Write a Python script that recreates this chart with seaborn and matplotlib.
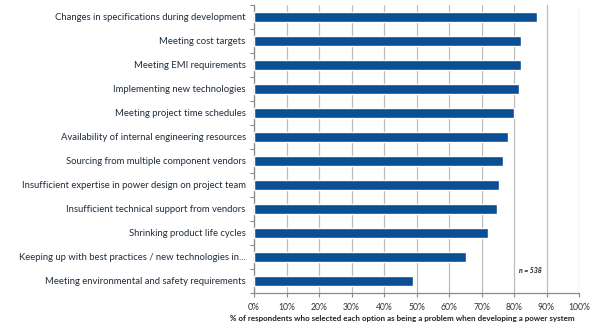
import matplotlib
matplotlib.use("Agg")
import matplotlib.pyplot as plt
from matplotlib.ticker import FixedLocator, PercentFormatter
import seaborn as sns
import pandas as pd
import numpy as np

categories = [
    "Changes in specifications during development",
    "Meeting cost targets",
    "Meeting EMI requirements",
    "Implementing new technologies",
    "Meeting project time schedules",
    "Availability of internal engineering resources",
    "Sourcing from multiple component vendors",
    "Insufficient expertise in power design on project team",
    "Insufficient technical support from vendors",
    "Shrinking product life cycles",
    "Keeping up with best practices / new technologies in...",
    "Meeting environmental and safety requirements",
]
shares = [87.1, 82.0, 82.0, 81.4, 79.9, 78.1, 76.7, 75.4, 74.9, 72.1, 65.3, 48.9]
x_ticks = [0, 10, 20, 30, 40, 50, 60, 70, 80, 90, 100]
x_label = "% of respondents who selected each option as being a problem when developing a power system"
sample_note = "n = 538"

df = pd.DataFrame({"problem": categories, "share": shares})

sns.set_theme(style="white")
plt.rcParams["font.family"] = ["Lato", "DejaVu Sans"]

fig = plt.figure(figsize=(6.06, 3.34), dpi=100)
ax = fig.add_axes([254 / 606, 1 - 293 / 334, (579 - 254) / 606, 288 / 334])

sns.barplot(data=df, x="share", y="problem", orient="h", color="#0a4f96",
            saturation=1, width=0.42, ax=ax, zorder=3)

ax.set_xlim(0, 100)
ax.set_ylim(len(categories) - 0.5, -0.5)
ax.xaxis.set_major_locator(FixedLocator(x_ticks))
ax.xaxis.set_major_formatter(PercentFormatter(decimals=0))
ax.grid(axis="x", color="#bcbcbc", linewidth=0.9, zorder=0)
ax.grid(axis="y", visible=False)

# category boundaries get the tick marks, labels stay centred on bars
ax.yaxis.set_minor_locator(FixedLocator(np.arange(-0.5, len(categories), 1.0)))
ax.tick_params(axis="y", which="major", length=0, labelsize=6.85, pad=6, labelcolor="#1f2d3d")
ax.tick_params(axis="y", which="minor", length=3, width=0.8, color="#8a8a8a", left=True)
ax.tick_params(axis="x", which="major", length=3, width=0.8, color="#8a8a8a",
               labelsize=6.2, labelcolor="#333333", pad=4, bottom=True)

for side in ("top", "right"):
    ax.spines[side].set_visible(False)
for side in ("left", "bottom"):
    ax.spines[side].set_color("#8a8a8a")
    ax.spines[side].set_linewidth(0.9)

ax.set_ylabel("")
ax.set_xlabel("")
fig.text(402 / 606, 1 - 318 / 334, x_label, ha="center", va="center",
         fontsize=5.8, fontweight="bold", color="#222222")
ax.text(81.5, 10.55, sample_note, fontsize=5.0, fontstyle="italic",
        fontweight="bold", color="#222222", va="center", ha="left")

fig.savefig("out.png", dpi=100, facecolor="white")
